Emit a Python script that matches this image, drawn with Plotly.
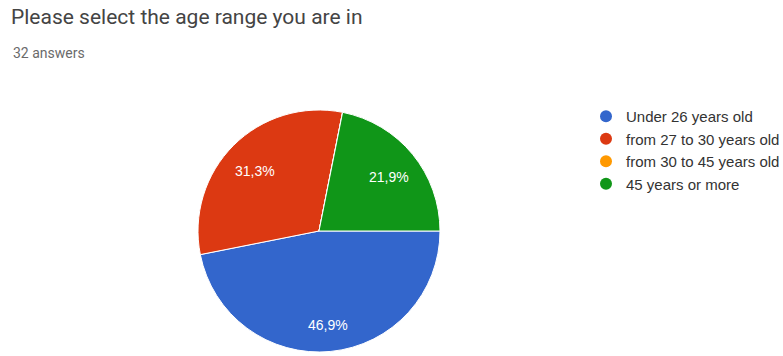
import math
from decimal import Decimal, ROUND_HALF_UP
import plotly.graph_objects as go

# Survey responses for the age question
categories = ["Under 26 years old", "from 27 to 30 years old",
              "from 30 to 45 years old", "45 years or more"]
counts = [15, 10, 0, 7]
colors = ["#3366cc", "#dc3912", "#ff9900", "#109618"]

title_text = "Please select the age range you are in"
subtitle_text = "32 answers"

total = sum(counts)


def pct_label(c):
    p = Decimal(c * 100) / Decimal(total)
    return str(p.quantize(Decimal("0.1"), rounding=ROUND_HALF_UP)).replace(".", ",") + "%"


W, H = 783, 356
cx, cy, r = 319, 231, 121
start_deg = 90  # first slice starts at 3 o'clock, running clockwise

fig = go.Figure()
fig.add_trace(go.Pie(
    labels=categories,
    values=counts,
    textinfo="none",
    marker=dict(colors=colors, line=dict(color="white", width=1)),
    sort=False,
    direction="clockwise",
    rotation=start_deg,
    showlegend=False,
    hoverinfo="label+percent",
    domain=dict(x=[(cx - r) / W, (cx + r) / W],
                y=[(H - cy - r) / H, (H - cy + r) / H]),
))

# Legend entries with round markers
for name, col in zip(categories, colors):
    fig.add_trace(go.Scatter(
        x=[None], y=[None], mode="markers", name=name,
        marker=dict(color=col, size=12, symbol="circle"),
        showlegend=True,
    ))

annotations = [
    dict(text=title_text, x=9 / W, y=1 - 17 / H,
         xref="paper", yref="paper", showarrow=False, xanchor="left",
         yanchor="middle",
         font=dict(family="Roboto", size=21, color="#444444")),
    dict(text=subtitle_text, x=11 / W, y=1 - 53 / H, xref="paper", yref="paper",
         showarrow=False, xanchor="left", yanchor="middle",
         font=dict(family="Roboto", size=14, color="#6a6a6a")),
]

# Percentage labels at the middle angle of each slice
acc = 0
for c in counts:
    if c:
        mid = start_deg + (acc + c / 2) / total * 360  # clockwise from 12 o'clock
        th = math.radians(mid)
        px = cx + 0.75 * r * math.sin(th)
        py = cy - 0.75 * r * math.cos(th) + 4
        annotations.append(dict(
            text=pct_label(c), x=px / W, y=1 - py / H, xref="paper", yref="paper",
            showarrow=False, xanchor="center", yanchor="middle",
            font=dict(family="Arial", size=14, color="white")))
    acc += c

fig.update_layout(
    width=W, height=H,
    margin=dict(l=0, r=0, t=0, b=0, autoexpand=False),
    paper_bgcolor="white", plot_bgcolor="white",
    xaxis=dict(visible=False), yaxis=dict(visible=False),
    legend=dict(x=586 / W, y=1 - 100 / H, xanchor="left", yanchor="top",
                font=dict(family="Arial", size=15, color="#333333"),
                bgcolor="rgba(0,0,0,0)", itemwidth=30),
    annotations=annotations,
)

fig.write_html("out.html")
